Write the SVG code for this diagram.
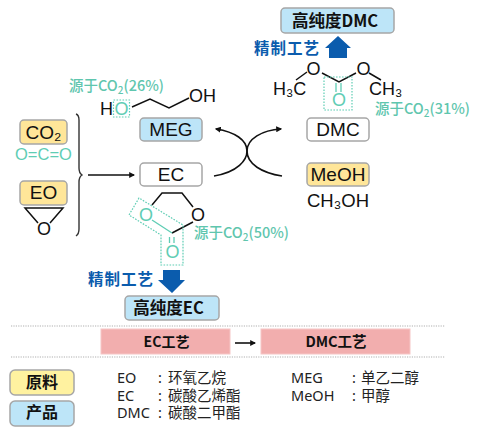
<svg xmlns="http://www.w3.org/2000/svg" width="492" height="437" viewBox="0 0 492 437">
<style>
text{font-family:"Noto Sans","Noto Sans CJK SC",sans-serif;fill:#111}
.box{stroke:#a6a6a6;stroke-width:1.5}
.y{fill:#ffe699}.b{fill:#bde5f8}.w{fill:#fff}.r{fill:#f2aeae;stroke:#f6c6c6;stroke-width:1}
text.chem{font-family:"Liberation Sans",sans-serif;font-size:18px}
text.lbl{font-size:19px;text-anchor:middle;font-family:"Liberation Sans",sans-serif}
text.cjk{font-family:"Noto Sans CJK SC",sans-serif;font-weight:700}
text.gc{fill:#5fcdb4}
text.gt{fill:#5fc6ae;font-family:"Noto Sans CJK SC",sans-serif;font-size:14.5px;font-weight:500}
.bond{fill:none;stroke:#111;stroke-width:1.5}
.gb{fill:none;stroke:#5fcdb4;stroke-width:1.3}
.dash{fill:none;stroke:#5fcdb4;stroke-width:1.2;stroke-dasharray:1.6 1.4}
.sep{stroke:#b0b0b0;stroke-width:1.2;stroke-dasharray:1.2 1.2}
text.blue{fill:#0b5cad;font-family:"Noto Sans CJK SC",sans-serif;font-weight:700;font-size:15.500px;letter-spacing:1px}
text.leg{font-size:14.500px;fill:#222;font-family:"Noto Sans","Noto Sans CJK SC",sans-serif}
.conn{fill:none;stroke:#111;stroke-width:1.6}
</style>
<defs>
<marker id="ah" viewBox="0 0 10 10" refX="8" refY="5" markerWidth="6" markerHeight="6" markerUnits="userSpaceOnUse" orient="auto"><path d="M0 0L10 5L0 10Z" fill="#111"/></marker>
</defs>

<g id="connectors">
<path class="conn" d="M88 175H134" marker-end="url(#ah)"/>
<path class="conn" d="M214 176C238 172 247 160 247 151C247 140 235 132 216 129" marker-end="url(#ah)"/>
<path class="conn" d="M282 176C262 173 247 164 247 151C247 139 262 130 281 129" marker-end="url(#ah)"/>
<path class="conn" d="M235 343H255" marker-end="url(#ah)"/>
<path fill="none" stroke="#333" stroke-width="1.4" d="M76 114Q79 115 79 120V168Q79 173 82 175Q79 177 79 182V229Q79 234 76 236"/>
<path d="M329 58V48H325L338 36L351 48H347V58Z" fill="#0b5cad"/>
<path d="M163 270V280H158L172 293L185 280H180V270Z" fill="#0b5cad"/>
</g>

<g id="node-co2"><rect class="box y" x="20" y="120" width="47" height="24" rx="4"/><text class="lbl" x="43.500" y="139">CO₂</text></g>
<text x="15" y="160" font-size="16.500" class="gc" style="font-family:'Liberation Sans'">O=C=O</text>

<g id="node-eo"><rect class="box y" x="20" y="181" width="47" height="24" rx="4"/><text class="lbl" x="43.500" y="199">EO</text></g>
<g id="eo-mol">
<path class="bond" d="M38 223L25 208H63L50 223"/>
<text class="chem" x="37" y="235">O</text>
</g>

<g id="node-meg"><rect class="box b" x="140" y="118" width="62" height="23" rx="4"/><text class="lbl" x="171" y="136">MEG</text></g>
<g id="meg-mol">
<path class="bond" d="M132 107L150 99L169 108L189 98"/>
<text class="chem" x="100" y="115">H</text>
<text class="chem gc" x="114.500" y="115">O</text>
<rect class="dash" x="113.500" y="100" width="16" height="17"/>
<text class="chem" x="189" y="102">OH</text>
</g>
<text class="gt" x="69" y="91">源于CO<tspan font-size="10" dy="3">2</tspan><tspan dy="-3">(26%)</tspan></text>

<g id="node-ec"><rect class="box w" x="140" y="163" width="62" height="23" rx="4"/><text class="lbl" x="171" y="181">EC</text></g>
<g id="ec-mol">
<path class="bond" d="M152 205L162 193H182L193 207M193 222L172 233"/>
<path class="gb" d="M152 220L172 233"/>
<path class="gb" d="M169.500 237V243M174 237V243"/>
<text class="chem gc" x="139" y="221">O</text>
<text class="chem" x="191" y="221">O</text>
<text class="chem gc" x="165.500" y="258">O</text>
<path class="dash" d="M139 198L129 215L161 235V265H183V225Z"/>
</g>
<text class="gt" x="194" y="238">源于CO<tspan font-size="10" dy="3">2</tspan><tspan dy="-3">(50%)</tspan></text>

<g id="node-dmc"><rect class="box w" x="307" y="118" width="62" height="23" rx="4"/><text class="lbl" x="338" y="136">DMC</text></g>
<g id="dmc-mol">
<path class="bond" d="M296 80L307 72M322 73L339 82L356 73M369 73L381 80"/>
<path class="gb" d="M336 83V92M341 83V92"/>
<text class="chem" x="273" y="95">H₃C</text>
<text class="chem" x="306.500" y="75">O</text>
<text class="chem" x="356.500" y="75">O</text>
<text class="chem" x="369" y="95">CH₃</text>
<text class="chem gc" x="332" y="106">O</text>
<rect class="dash" x="324" y="77" width="28" height="33"/>
</g>
<text class="gt" x="375" y="114">源于CO<tspan font-size="10" dy="3">2</tspan><tspan dy="-3">(31%)</tspan></text>

<g id="node-meoh"><rect class="box y" x="307" y="163" width="62" height="23" rx="4"/><text class="lbl" x="338" y="181">MeOH</text></g>
<text class="chem" x="307" y="207" style="font-size:18.500px">CH₃OH</text>

<g id="node-hp-dmc"><rect class="box b" x="281" y="8" width="113" height="25" rx="4"/><text class="cjk" font-size="16.500" text-anchor="middle" x="335" y="27">高纯度DMC</text></g>
<text class="blue" x="254" y="54">精制工艺</text>

<g id="node-hp-ec"><rect class="box b" x="125" y="296" width="94" height="24" rx="4"/><text class="cjk" font-size="16.500" text-anchor="middle" x="168.500" y="314">高纯度EC</text></g>
<text class="blue" x="88" y="285">精制工艺</text>

<line class="sep" x1="11" y1="326" x2="445" y2="326"/>
<line class="sep" x1="11" y1="357" x2="445" y2="357"/>

<g id="node-ec-proc"><rect class="r" x="101" y="329" width="129" height="25"/><text class="cjk" x="166.500" y="347" font-size="14" text-anchor="middle">EC工艺</text></g>
<g id="node-dmc-proc"><rect class="r" x="261" y="329" width="149" height="25"/><text class="cjk" x="336" y="347" font-size="14.500" text-anchor="middle">DMC工艺</text></g>

<g id="legend-raw"><rect class="box" fill="#fff2a0" x="10" y="370" width="64" height="25" rx="5"/><text class="cjk" x="42" y="388" font-size="16" text-anchor="middle">原料</text></g>
<g id="legend-prod"><rect class="box b" x="10" y="401" width="64" height="25" rx="5"/><text class="cjk" x="42" y="418" font-size="16" text-anchor="middle">产品</text></g>

<text class="leg" x="117" y="383">EO</text><text class="leg" x="158" y="383">:</text><text class="leg" x="168" y="383">环氧乙烷</text>
<text class="leg" x="117" y="401">EC</text><text class="leg" x="158" y="401">:</text><text class="leg" x="168" y="401">碳酸乙烯酯</text>
<text class="leg" x="117" y="418">DMC</text><text class="leg" x="158" y="418">:</text><text class="leg" x="168" y="418">碳酸二甲酯</text>
<text class="leg" x="291" y="383">MEG</text><text class="leg" x="352" y="383">:</text><text class="leg" x="361" y="383">单乙二醇</text>
<text class="leg" x="291" y="401">MeOH</text><text class="leg" x="352" y="401">:</text><text class="leg" x="361" y="401">甲醇</text>
</svg>
